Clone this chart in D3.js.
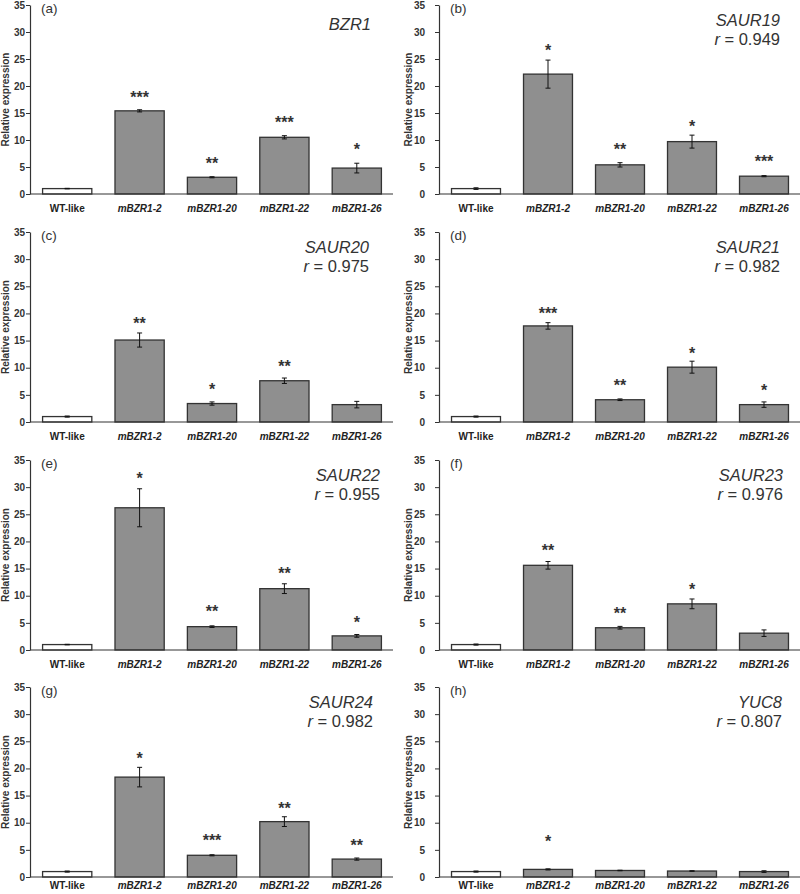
<!DOCTYPE html>
<html>
<head>
<meta charset="utf-8">
<script src="https://cdn.jsdelivr.net/npm/d3@7"></script>
<style>
  html, body { margin: 0; padding: 0; background: #fff; }
  svg { display: block; }
  text { font-family: "Liberation Sans", Arial, sans-serif; fill: #222; }
</style>
</head>
<body>
<svg id="chart" width="800" height="894"></svg>
<script>
// ---------------- DATA ----------------
const categories = ["WT-like", "mBZR1-2", "mBZR1-20", "mBZR1-22", "mBZR1-26"];
const panelLetters = ["(a)", "(b)", "(c)", "(d)", "(e)", "(f)", "(g)", "(h)"];
const genes = ["BZR1", "SAUR19", "SAUR20", "SAUR21", "SAUR22", "SAUR23", "SAUR24", "YUC8"];
const rValues = [null, "0.949", "0.975", "0.982", "0.955", "0.976", "0.982", "0.807"];
const yTicks = [0, 5, 10, 15, 20, 25, 30, 35];

const meanBZR1   = [1.0, 15.4, 3.1, 10.5, 4.8];
const meanSAUR19 = [1.0, 22.2, 5.4, 9.7, 3.3];
const meanSAUR20 = [1.0, 15.1, 3.4, 7.6, 3.2];
const meanSAUR21 = [1.0, 17.7, 4.1, 10.1, 3.2];
const meanSAUR22 = [1.0, 26.2, 4.3, 11.3, 2.6];
const meanSAUR23 = [1.0, 15.6, 4.1, 8.5, 3.1];
const meanSAUR24 = [1.0, 18.4, 4.0, 10.2, 3.3];
const meanYUC8   = [1.0, 1.4, 1.2, 1.1, 1.0];

const errBZR1   = [0.05, 0.2, 0.1, 0.3, 0.9];
const errSAUR19 = [0.15, 2.6, 0.4, 1.2, 0.1];
const errSAUR20 = [0.1, 1.3, 0.3, 0.5, 0.6];
const errSAUR21 = [0.1, 0.6, 0.15, 1.1, 0.5];
const errSAUR22 = [0.05, 3.5, 0.15, 0.9, 0.25];
const errSAUR23 = [0.1, 0.7, 0.25, 0.9, 0.6];
const errSAUR24 = [0.1, 1.8, 0.1, 0.9, 0.2];
const errYUC8   = [0.1, 0.1, 0.05, 0.05, 0.15];

const sigBZR1   = ["", "***", "**", "***", "*"];
const sigSAUR19 = ["", "*", "**", "*", "***"];
const sigSAUR20 = ["", "**", "*", "**", ""];
const sigSAUR21 = ["", "***", "**", "*", "*"];
const sigSAUR22 = ["", "*", "**", "**", "*"];
const sigSAUR23 = ["", "**", "**", "*", ""];
const sigSAUR24 = ["", "*", "***", "**", "**"];
const sigYUC8   = ["", "*", "", "", ""];

// height (in expression units) at which each significance mark is drawn
const sigAtBZR1   = [null, 18.6, 6.3, 13.9, 8.9];
const sigAtSAUR19 = [null, 27.3, 8.8, 13.1, 6.7];
const sigAtSAUR20 = [null, 18.8, 6.6, 10.8, null];
const sigAtSAUR21 = [null, 20.7, 7.3, 13.2, 6.5];
const sigAtSAUR22 = [null, 32.2, 7.7, 14.7, 5.8];
const sigAtSAUR23 = [null, 19.0, 7.3, 11.8, null];
const sigAtSAUR24 = [null, 22.5, 7.4, 13.25, 6.5];
const sigAtYUC8   = [null, 7.1, null, null, null];

const means = [meanBZR1, meanSAUR19, meanSAUR20, meanSAUR21, meanSAUR22, meanSAUR23, meanSAUR24, meanYUC8];
const errs  = [errBZR1, errSAUR19, errSAUR20, errSAUR21, errSAUR22, errSAUR23, errSAUR24, errYUC8];
const sigs  = [sigBZR1, sigSAUR19, sigSAUR20, sigSAUR21, sigSAUR22, sigSAUR23, sigSAUR24, sigYUC8];
const sigAt = [sigAtBZR1, sigAtSAUR19, sigAtSAUR20, sigAtSAUR21, sigAtSAUR22, sigAtSAUR23, sigAtSAUR24, sigAtYUC8];

// ---------------- LAYOUT ----------------
const colLayout = [
  { axisX: 30,  rangeEnd: 393, tickPad: 1,  yLabelX: 9 },
  { axisX: 439, rangeEnd: 800, tickPad: 10, yLabelX: 412 }
];
const rowLayout = [
  { top: 5,   zero: 194, xPad: 11 },
  { top: 232, zero: 422, xPad: 11 },
  { top: 460, zero: 650, xPad: 11 },
  { top: 687, zero: 877, xPad: 5 }
];
const geneLabelInset = [22, 20, 24, 20, 13, 17, 20, 18];

const svg = d3.select("#chart");
const BAR_FILL = "#8f8f8f";
const STROKE = "#333";

genes.forEach((gene, p) => {
  const col = colLayout[p % 2];
  const row = rowLayout[Math.floor(p / 2)];
  const g = svg.append("g");

  const x = d3.scaleBand()
    .domain(categories)
    .range([col.axisX + 1, col.rangeEnd])
    .paddingInner(0.32)
    .paddingOuter(0.16);
  const y = d3.scaleLinear().domain([0, 35]).range([row.zero, row.top]);

  // bars
  g.selectAll("rect.bar")
    .data(categories)
    .join("rect")
    .attr("x", d => x(d))
    .attr("width", x.bandwidth())
    .attr("y", (d, i) => y(means[p][i]))
    .attr("height", (d, i) => y(0) - y(means[p][i]))
    .attr("fill", (d, i) => i === 0 ? "#fff" : BAR_FILL)
    .attr("stroke", STROKE)
    .attr("stroke-width", 1.3);

  // error bars
  const cap = 2.5;
  categories.forEach((c, i) => {
    const cx = x(c) + x.bandwidth() / 2;
    const hi = y(means[p][i] + errs[p][i]);
    const lo = y(means[p][i] - errs[p][i]);
    g.append("line").attr("x1", cx).attr("x2", cx).attr("y1", hi).attr("y2", lo)
      .attr("stroke", "#111").attr("stroke-width", 1);
    g.append("line").attr("x1", cx - cap).attr("x2", cx + cap).attr("y1", hi).attr("y2", hi)
      .attr("stroke", "#111").attr("stroke-width", 1);
    g.append("line").attr("x1", cx - cap).attr("x2", cx + cap).attr("y1", lo).attr("y2", lo)
      .attr("stroke", "#111").attr("stroke-width", 1);
    // significance
    if (sigs[p][i] && sigAt[p][i] != null) {
      g.append("text")
        .attr("x", cx)
        .attr("y", y(sigAt[p][i]) + 9)
        .attr("text-anchor", "middle")
        .attr("font-size", 16)
        .attr("font-weight", "bold")
        .style("fill", "#333")
        .text(sigs[p][i]);
    }
  });

  // y axis
  const yAxis = d3.axisLeft(y).tickValues(yTicks).tickSize(4).tickPadding(col.tickPad).tickSizeOuter(0);
  const ya = g.append("g").attr("transform", `translate(${col.axisX},0)`).call(yAxis);
  ya.select(".domain").attr("stroke", STROKE).attr("stroke-width", 1.2);
  ya.selectAll(".tick line").attr("stroke", STROKE).attr("stroke-width", 1);
  ya.selectAll(".tick text")
    .attr("font-size", 10).attr("font-weight", "bold")
    .attr("font-family", "Liberation Sans, Arial, sans-serif")
    .style("fill", "#333");

  // x axis
  const xAxis = d3.axisBottom(x).tickSize(0).tickPadding(row.xPad).tickSizeOuter(0);
  const xa = g.append("g").attr("transform", `translate(0,${row.zero})`).call(xAxis);
  xa.select(".domain").attr("stroke", STROKE).attr("stroke-width", 1.2)
    .attr("d", `M${col.axisX},0H${col.rangeEnd}`);
  xa.selectAll(".tick text")
    .attr("font-size", 10).attr("font-weight", "bold")
    .attr("font-family", "Liberation Sans, Arial, sans-serif")
    .attr("font-style", (d, i) => i === 0 ? "normal" : "italic")
    .style("fill", "#222");

  // y axis label
  g.append("text")
    .attr("transform", `translate(${col.yLabelX},${(row.top + row.zero) / 2}) rotate(-90)`)
    .attr("text-anchor", "middle")
    .attr("font-size", 10)
    .attr("font-weight", "bold")
    .style("fill", "#333")
    .text("Relative expression");

  // panel letter
  g.append("text")
    .attr("x", col.axisX + 11)
    .attr("y", row.top + 8)
    .attr("font-size", 13.5)
    .style("fill", "#333")
    .text(panelLetters[p]);

  // gene name and r
  const rightX = col.rangeEnd - geneLabelInset[p];
  if (rValues[p] == null) {
    g.append("text")
      .attr("x", rightX).attr("y", row.top + 25)
      .attr("text-anchor", "end")
      .attr("font-size", 16.5).attr("font-style", "italic")
      .style("fill", "#333")
      .text(gene);
  } else {
    g.append("text")
      .attr("x", rightX).attr("y", row.top + 21)
      .attr("text-anchor", "end")
      .attr("font-size", 16.5).attr("font-style", "italic")
      .style("fill", "#333")
      .text(gene);
    const t = g.append("text")
      .attr("x", rightX).attr("y", row.top + 40)
      .attr("text-anchor", "end")
      .attr("font-size", 16.5)
      .style("fill", "#333");
    t.append("tspan").attr("font-style", "italic").text("r");
    t.append("tspan").text(" = " + rValues[p]);
  }
});
</script>
</body>
</html>
